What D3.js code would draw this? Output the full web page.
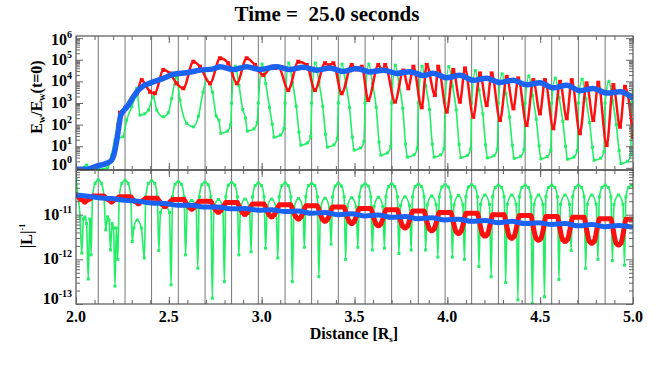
<!DOCTYPE html>
<html>
<head>
<meta charset="utf-8">
<script src="https://cdn.jsdelivr.net/npm/d3@7"></script>
<style>
  body { margin: 0; background: #fff; }
  .frame { fill: none; stroke: #333; stroke-width: 1; }
  .axis path { display: none; }
  .axis line { stroke: #666; }
</style>
</head>
<body>
<script>
// vertical marker lines [R_s]
var markLines = [2.120, 2.264, 2.407, 2.551, 2.695, 2.838, 2.982, 3.126, 3.269, 3.413,
                 3.557, 3.700, 3.844, 3.988, 4.131, 4.275, 4.419, 4.562, 4.706, 4.850];

var xLabels = [2.0, 2.5, 3.0, 3.5, 4.0, 4.5, 5.0];
var topExps = [0, 1, 2, 3, 4, 5, 6];
var botExps = [-13, -12, -11];

// top panel, [distance, log10(Ew/Ew(t=0))]
var topGreen = [[2.000,-0.08],[2.030,-0.02],[2.057,0.13],[2.080,-0.05],[2.120,-0.07],[2.170,0.0],[2.184,0.3],
  [2.192,0.59],[2.210,1.29],[2.228,1.37],[2.253,1.44],[2.273,2.21],[2.300,2.83],[2.318,3.29],[2.327,3.68],
  [2.345,2.44],[2.370,2.5],[2.390,2.67],[2.417,3.29],[2.435,2.67],[2.470,2.36],[2.497,2.55],[2.515,3.2],
  [2.542,4.21],[2.560,3.14],[2.596,2.06],[2.632,1.9],[2.660,2.4],[2.684,3.5],[2.704,4.06],[2.735,3.5],
  [2.755,2.4],[2.770,2.2],[2.780,1.6],[2.815,1.7],[2.833,2.0],
  [2.838,3.0],[2.858,4.7],[2.878,3.8],[2.898,2.7],[2.913,2.3],[2.923,1.7],[2.958,1.8],[2.976,2.1],
  [2.982,3.0],[3.002,4.8],[3.022,3.9],[3.042,2.8],[3.057,2.02],[3.067,1.42],[3.102,1.52],[3.120,1.82],
  [3.126,3.0],[3.146,4.85],[3.166,3.95],[3.186,2.85],[3.201,1.65],[3.211,1.05],[3.246,1.15],[3.264,1.45],
  [3.269,3.0],[3.289,4.85],[3.309,3.95],[3.329,2.85],[3.344,1.56],[3.354,0.96],[3.389,1.06],[3.407,1.36],
  [3.413,3.0],[3.433,4.8],[3.453,3.9],[3.473,2.8],[3.488,1.42],[3.498,0.82],[3.533,0.92],[3.551,1.22],
  [3.557,3.0],[3.577,4.8],[3.597,3.9],[3.617,2.8],[3.632,1.19],[3.642,0.59],[3.677,0.69],[3.695,0.99],
  [3.700,3.0],[3.720,4.75],[3.740,3.85],[3.760,2.75],[3.775,1.1],[3.785,0.5],[3.820,0.6],[3.838,0.9],
  [3.844,3.0],[3.864,4.7],[3.884,3.8],[3.904,2.7],[3.919,1.1],[3.929,0.5],[3.964,0.6],[3.982,0.9],
  [3.988,3.0],[4.008,4.68],[4.028,3.78],[4.048,2.68],[4.063,1.08],[4.073,0.48],[4.108,0.58],[4.126,0.88],
  [4.131,3.0],[4.151,4.5],[4.171,3.6],[4.191,2.5],[4.206,1.06],[4.216,0.46],[4.251,0.56],[4.269,0.86],
  [4.275,3.0],[4.295,4.35],[4.315,3.45],[4.335,2.35],[4.350,1.04],[4.360,0.44],[4.395,0.54],[4.413,0.84],
  [4.419,3.0],[4.439,4.25],[4.459,3.35],[4.479,2.25],[4.494,1.02],[4.504,0.42],[4.539,0.52],[4.557,0.82],
  [4.562,3.0],[4.582,4.15],[4.602,3.25],[4.622,2.15],[4.637,1.0],[4.647,0.4],[4.682,0.5],[4.700,0.8],
  [4.706,3.0],[4.726,4.1],[4.746,3.2],[4.766,2.1],[4.781,0.95],[4.791,0.35],[4.826,0.45],[4.844,0.75],
  [4.850,3.0],[4.870,4.0],[4.890,3.1],[4.910,2.0],[4.925,0.8],[4.935,0.2],[4.970,0.3],[4.988,0.6],
  [4.993,3.0],[5.000,3.6]];

var topRed = [[2.000,-0.07],[2.054,-0.07],[2.111,0.08],[2.165,0.21],[2.192,0.36],[2.210,0.9],[2.228,2.0],
  [2.237,2.55],[2.264,2.75],[2.291,3.06],[2.327,3.45],[2.354,4.06],[2.377,3.8],[2.399,3.52],[2.425,3.45],
  [2.470,4.53],[2.506,4.37],[2.542,3.91],[2.578,3.68],[2.632,4.91],[2.668,4.68],[2.722,3.91],[2.776,5.07],
  [2.820,4.84],[2.866,3.91],[2.919,5.07],[2.964,4.76],[3.009,4.29],[3.054,4.68],[3.072,4.62],[3.090,4.68],
  [3.143,3.6],[3.197,4.91],[3.243,4.76],[3.287,3.6],[3.341,4.84],[3.363,4.75],[3.386,4.84],[3.431,3.45],
  [3.485,4.76],[3.512,4.55],[3.539,4.68],[3.574,3.14],[3.628,4.76],[3.651,4.5],[3.665,4.76],[3.718,3.06],
  [3.763,4.5],[3.790,3.68],[3.817,4.68],[3.862,2.8],[3.889,4.76],[3.933,3.37],[3.951,4.68],[3.997,2.6],
  [4.032,4.53],[4.068,3.06],[4.095,4.6],[4.140,2.36],[4.176,4.37],[4.212,2.9],[4.239,4.37],[4.284,2.21],
  [4.320,4.21],[4.356,2.75],[4.382,4.14],[4.427,1.98],[4.463,4.06],[4.499,2.52],[4.526,4.06],[4.571,1.83],
  [4.607,3.98],[4.643,2.29],[4.670,4.06],[4.714,1.6],[4.750,3.91],[4.786,2.21],[4.813,3.94],[4.858,1.05],
  [4.894,3.83],[4.930,1.9],[4.957,3.75],[5.000,1.44]];

var topBlue = [[2.000,-0.07],[2.054,-0.07],[2.111,0.08],[2.165,0.21],[2.192,0.36],[2.210,0.82],[2.228,1.75],
  [2.241,2.44],[2.259,2.67],[2.282,2.9],[2.309,3.29],[2.336,3.6],[2.363,3.79],[2.416,3.98],[2.470,4.14],
  [2.524,4.33],[2.596,4.40],[2.668,4.52],[2.740,4.58],[2.776,4.68],[2.847,4.55],[2.919,4.68],[2.991,4.55],
  [3.081,4.68],[3.153,4.55],[3.224,4.65],[3.296,4.52],[3.368,4.62],[3.440,4.46],[3.512,4.6],[3.583,4.44],
  [3.655,4.52],[3.727,4.37],[3.799,4.45],[3.871,4.27],[3.924,4.38],[3.997,4.17],[4.068,4.28],[4.140,4.05],
  [4.212,4.14],[4.284,3.95],[4.355,4.05],[4.427,3.84],[4.499,3.94],[4.571,3.7],[4.643,3.82],[4.714,3.57],
  [4.786,3.67],[4.858,3.46],[4.930,3.52],[5.000,3.22]];

// bottom panel, [distance, log10 |L|^-1]
var botGreen = [[2.000,-10.20],[2.010,-10.55],[2.022,-11.05],[2.031,-11.86],[2.040,-11.1],[2.048,-11.05],
  [2.057,-11.2],[2.066,-12.44],[2.074,-11.1],[2.078,-11.15],[2.081,-11.9],
  [2.089,-10.6],[2.103,-10.3],[2.120,-10.22],[2.137,-10.3],[2.151,-10.6],[2.160,-11.34],
  [2.170,-11.05],[2.178,-11.12],[2.186,-11.79],[2.194,-11.2],[2.202,-11.3],[2.210,-12.6],[2.217,-11.3],[2.225,-12.0],
  [2.233,-10.6],[2.247,-10.3],[2.264,-10.23],[2.281,-10.3],[2.295,-10.6],[2.303,-11.6],
  [2.311,-11.3],[2.330,-11.12],[2.352,-11.3],[2.368,-11.97],
  [2.376,-10.6],[2.390,-10.3],[2.407,-10.24],[2.424,-10.3],[2.438,-10.6],[2.446,-11.8],
  [2.455,-10.95],[2.479,-10.8],[2.503,-10.95],[2.512,-12.57],
  [2.520,-10.6],[2.534,-10.32],[2.551,-10.26],[2.568,-10.32],[2.582,-10.6],[2.590,-11.9],
  [2.599,-10.85],[2.623,-10.68],[2.647,-10.85],[2.656,-12.2],
  [2.664,-10.6],[2.678,-10.33],[2.695,-10.27],[2.712,-10.33],[2.726,-10.6],[2.734,-12.87],
  [2.743,-10.85],[2.767,-10.66],[2.791,-10.85],[2.799,-12.5],
  [2.807,-10.6],[2.821,-10.34],[2.838,-10.28],[2.855,-10.34],[2.869,-10.6],[2.877,-11.9],
  [2.886,-10.85],[2.910,-10.65],[2.934,-10.85],[2.943,-11.83],
  [2.951,-10.6],[2.965,-10.35],[2.982,-10.29],[2.999,-10.35],[3.013,-10.6],[3.021,-11.75],
  [3.030,-10.85],[3.054,-10.65],[3.078,-10.85],[3.087,-11.97],
  [3.095,-10.6],[3.109,-10.35],[3.126,-10.29],[3.143,-10.35],[3.157,-10.6],[3.165,-12.5],
  [3.174,-10.85],[3.198,-10.64],[3.222,-10.85],[3.230,-11.73],
  [3.238,-10.6],[3.252,-10.35],[3.269,-10.3],[3.286,-10.35],[3.300,-10.6],[3.308,-12.39],
  [3.317,-10.85],[3.341,-10.63],[3.365,-10.85],[3.374,-11.66],
  [3.382,-10.6],[3.396,-10.36],[3.413,-10.3],[3.430,-10.36],[3.444,-10.6],[3.452,-12.0],
  [3.461,-10.83],[3.485,-10.62],[3.509,-10.83],[3.518,-11.73],
  [3.526,-10.6],[3.540,-10.36],[3.557,-10.31],[3.574,-10.36],[3.588,-10.6],[3.596,-11.79],
  [3.605,-10.82],[3.629,-10.61],[3.653,-10.82],[3.661,-11.75],
  [3.669,-10.6],[3.683,-10.37],[3.700,-10.31],[3.717,-10.37],[3.731,-10.6],[3.739,-11.87],
  [3.748,-10.8],[3.772,-10.6],[3.796,-10.8],[3.805,-11.79],
  [3.813,-10.6],[3.827,-10.37],[3.844,-10.32],[3.861,-10.37],[3.875,-10.6],[3.883,-11.79],
  [3.892,-10.78],[3.916,-10.58],[3.940,-10.78],[3.949,-11.95],
  [3.957,-10.6],[3.971,-10.38],[3.988,-10.33],[4.005,-10.38],[4.019,-10.6],[4.027,-11.95],
  [4.036,-10.78],[4.060,-10.57],[4.084,-10.78],[4.092,-12.0],
  [4.100,-10.6],[4.114,-10.38],[4.131,-10.33],[4.148,-10.38],[4.162,-10.6],[4.170,-12.16],
  [4.179,-10.77],[4.203,-10.56],[4.227,-10.77],[4.236,-12.39],
  [4.244,-10.6],[4.258,-10.39],[4.275,-10.34],[4.292,-10.39],[4.306,-10.6],[4.314,-12.52],
  [4.323,-10.77],[4.347,-10.56],[4.371,-10.77],[4.380,-12.91],
  [4.388,-10.6],[4.402,-10.39],[4.419,-10.34],[4.436,-10.39],[4.450,-10.6],[4.458,-13.0],
  [4.467,-10.77],[4.491,-10.56],[4.515,-10.77],[4.523,-12.84],
  [4.531,-10.6],[4.545,-10.39],[4.562,-10.34],[4.579,-10.39],[4.593,-10.6],[4.601,-12.45],
  [4.610,-10.77],[4.634,-10.56],[4.658,-10.77],[4.667,-11.8],
  [4.675,-10.6],[4.689,-10.39],[4.706,-10.34],[4.723,-10.39],[4.737,-10.6],[4.745,-12.2],
  [4.754,-10.77],[4.778,-10.56],[4.802,-10.77],[4.811,-12.0],
  [4.819,-10.6],[4.833,-10.39],[4.850,-10.34],[4.867,-10.39],[4.881,-10.6],[4.889,-12.03],
  [4.898,-10.77],[4.922,-10.56],[4.946,-10.77],[4.954,-12.13],
  [4.962,-10.6],[4.976,-10.39],[4.993,-10.34],[5.000,-10.36]];

var botRed = [[2.000,-10.56],[2.006,-10.56],[2.021,-10.64],[2.034,-10.67],[2.048,-10.72],[2.062,-10.67],[2.075,-10.65],
  [2.090,-10.58],[2.150,-10.58],[2.165,-10.65],[2.178,-10.67],[2.192,-10.72],[2.206,-10.67],[2.219,-10.65],
  [2.234,-10.60],[2.294,-10.60],[2.309,-10.68],[2.322,-10.71],[2.336,-10.76],[2.350,-10.71],[2.363,-10.68],
  [2.377,-10.63],[2.437,-10.63],[2.452,-10.72],[2.465,-10.77],[2.479,-10.82],[2.493,-10.77],[2.506,-10.72],
  [2.521,-10.66],[2.581,-10.66],[2.596,-10.77],[2.609,-10.83],[2.623,-10.88],[2.637,-10.83],[2.650,-10.77],
  [2.665,-10.70],[2.725,-10.70],[2.740,-10.82],[2.753,-10.90],[2.767,-10.95],[2.781,-10.90],[2.794,-10.82],
  [2.808,-10.73],[2.868,-10.73],[2.883,-10.86],[2.896,-10.95],[2.910,-11.0],[2.924,-10.95],[2.937,-10.86],
  [2.952,-10.76],[3.012,-10.76],[3.027,-10.9],[3.040,-11.0],[3.054,-11.05],[3.068,-11.0],[3.081,-10.9],
  [3.096,-10.78],[3.156,-10.78],[3.171,-10.94],[3.184,-11.05],[3.198,-11.1],[3.212,-11.05],[3.225,-10.94],
  [3.239,-10.80],[3.299,-10.80],[3.314,-10.97],[3.327,-11.1],[3.341,-11.15],[3.355,-11.1],[3.368,-10.97],
  [3.383,-10.83],[3.443,-10.83],[3.458,-11.01],[3.471,-11.15],[3.485,-11.2],[3.499,-11.15],[3.512,-11.01],
  [3.527,-10.86],[3.587,-10.86],[3.602,-11.05],[3.615,-11.2],[3.629,-11.25],[3.643,-11.2],[3.656,-11.05],
  [3.670,-10.89],[3.730,-10.89],[3.745,-11.09],[3.758,-11.25],[3.772,-11.3],[3.786,-11.25],[3.799,-11.09],
  [3.814,-10.92],[3.874,-10.92],[3.889,-11.14],[3.902,-11.31],[3.916,-11.36],[3.930,-11.31],[3.943,-11.14],
  [3.958,-10.95],[4.018,-10.95],[4.033,-11.18],[4.046,-11.37],[4.060,-11.42],[4.074,-11.37],[4.087,-11.18],
  [4.101,-10.97],[4.161,-10.97],[4.176,-11.22],[4.189,-11.43],[4.203,-11.48],[4.217,-11.43],[4.230,-11.22],
  [4.245,-11.0],[4.305,-11.0],[4.320,-11.26],[4.333,-11.48],[4.347,-11.53],[4.361,-11.48],[4.374,-11.26],
  [4.389,-11.02],[4.449,-11.02],[4.464,-11.3],[4.477,-11.52],[4.491,-11.57],[4.505,-11.52],[4.518,-11.3],
  [4.532,-11.04],[4.592,-11.04],[4.607,-11.32],[4.620,-11.55],[4.634,-11.6],[4.648,-11.55],[4.661,-11.32],
  [4.676,-11.06],[4.736,-11.06],[4.751,-11.35],[4.764,-11.59],[4.778,-11.64],[4.792,-11.59],[4.805,-11.35],
  [4.820,-11.09],[4.880,-11.09],[4.895,-11.38],[4.908,-11.63],[4.922,-11.68],[4.936,-11.63],[4.949,-11.38],
  [4.963,-11.1],[5.000,-11.1]];

var botBlue = [[2.000,-10.56],[2.050,-10.58],[2.120,-10.62],[2.190,-10.64],[2.264,-10.68],[2.336,-10.70],
  [2.407,-10.74],[2.479,-10.75],[2.551,-10.79],[2.623,-10.79],[2.695,-10.83],[2.767,-10.83],[2.838,-10.87],
  [2.910,-10.86],[2.982,-10.9],[3.054,-10.89],[3.126,-10.93],[3.198,-10.92],[3.269,-10.97],[3.341,-10.95],
  [3.413,-11.0],[3.485,-10.98],[3.557,-11.03],[3.629,-11.01],[3.700,-11.06],[3.772,-11.04],[3.844,-11.09],
  [3.916,-11.07],[3.988,-11.12],[4.060,-11.1],[4.131,-11.15],[4.203,-11.13],[4.275,-11.18],[4.347,-11.15],
  [4.419,-11.2],[4.491,-11.18],[4.562,-11.22],[4.634,-11.2],[4.706,-11.25],[4.778,-11.22],[4.850,-11.27],
  [4.922,-11.24],[5.000,-11.28]];

var GREEN = "#22ee66", RED = "#ff1010", BLUE = "#1a62f2";
var SERIF = "'Liberation Serif', 'Times New Roman', 'DejaVu Serif', serif";

var svg = d3.select("body").append("svg").attr("width", 656).attr("height", 365)
  .style("font-family", SERIF).style("font-weight", "bold");

var x = d3.scaleLinear().domain([2, 5]).range([76, 633]);
var yTop = d3.scaleLog().domain([Math.pow(10, -0.1), Math.pow(10, 6.1)]).range([170, 36]);
var yBot = d3.scaleLog().domain([1e-13, 1e-10]).range([304, 170]);

var defs = svg.append("defs");
defs.append("clipPath").attr("id", "clipTop").append("rect")
  .attr("x", 76).attr("y", 36).attr("width", 557).attr("height", 134);
defs.append("clipPath").attr("id", "clipBot").append("rect")
  .attr("x", 76).attr("y", 170).attr("width", 557).attr("height", 134);

// vertical lines through both panels
svg.append("g").selectAll("line").data(markLines).enter().append("line")
  .attr("x1", function(d) { return x(d); }).attr("x2", function(d) { return x(d); })
  .attr("y1", 36).attr("y2", 304)
  .attr("stroke", "#777").attr("stroke-width", 1);

function drawSeries(g, data, y, color, width, mark) {
  var line = d3.line()
    .x(function(d) { return x(d[0]); })
    .y(function(d) { return y(Math.pow(10, d[1])); })
    .curve(d3.curveMonotoneX);
  g.append("path").datum(data)
    .attr("fill", "none").attr("stroke", color).attr("stroke-width", width)
    .attr("stroke-linejoin", "round").attr("d", line);
  if (mark) {
    g.append("g").selectAll("rect").data(data).enter().append("rect")
      .attr("x", function(d) { return x(d[0]) - mark / 2; })
      .attr("y", function(d) { return y(Math.pow(10, d[1])) - mark / 2; })
      .attr("width", mark).attr("height", mark)
      .attr("fill", color);
  }
}

var gTop = svg.append("g").attr("clip-path", "url(#clipTop)");
drawSeries(gTop, topGreen, yTop, GREEN, 1.6, 3);
drawSeries(gTop, topRed, yTop, RED, 2.5, 4);
drawSeries(gTop, topBlue, yTop, BLUE, 5.5, 0);

var gBot = svg.append("g").attr("clip-path", "url(#clipBot)");
drawSeries(gBot, botGreen, yBot, GREEN, 1.6, 3);
drawSeries(gBot, botRed, yBot, RED, 5, 4);
drawSeries(gBot, botBlue, yBot, BLUE, 5, 0);

// frames
svg.append("rect").attr("class", "frame").attr("x", 76).attr("y", 36).attr("width", 557).attr("height", 134);
svg.append("rect").attr("class", "frame").attr("x", 76).attr("y", 170).attr("width", 557).attr("height", 134);

// x ticks on every horizontal edge, pointing into the panel
var xMinor = d3.range(2, 5.001, 0.1);
[[36, 1], [170, -1], [170, 1], [304, -1]].forEach(function(e) {
  var axMaj = (e[1] > 0 ? d3.axisTop(x) : d3.axisBottom(x)).tickValues(xLabels).tickFormat("").tickSize(-7);
  var axMin = (e[1] > 0 ? d3.axisTop(x) : d3.axisBottom(x)).tickValues(xMinor).tickFormat("").tickSize(-4);
  svg.append("g").attr("class", "axis").attr("transform", "translate(0," + e[0] + ")").call(axMaj);
  svg.append("g").attr("class", "axis").attr("transform", "translate(0," + e[0] + ")").call(axMin);
});

function logTicks(lo, hi) {
  var v = [];
  for (var e = lo; e <= hi; e++) for (var k = 2; k <= 9; k++) v.push(k * Math.pow(10, e));
  return v;
}
function yAxes(y, exps, minors, yMin, yMax) {
  var maj = exps.map(function(e) { return Math.pow(10, e); });
  [[76, d3.axisLeft], [633, d3.axisRight]].forEach(function(s) {
    svg.append("g").attr("class", "axis").attr("transform", "translate(" + s[0] + ",0)")
      .call(s[1](y).tickValues(maj).tickFormat("").tickSize(-7));
    svg.append("g").attr("class", "axis").attr("transform", "translate(" + s[0] + ",0)")
      .call(s[1](y).tickValues(minors).tickFormat("").tickSize(-4));
  });
  exps.forEach(function(e) {
    var cy = Math.max(yMin, Math.min(yMax, y(Math.pow(10, e))));
    var t = svg.append("text").attr("x", 72).attr("y", cy + 5)
      .attr("text-anchor", "end").style("font-size", "16px");
    t.append("tspan").text("10");
    t.append("tspan").attr("dy", -7).style("font-size", "10px").text(String(e));
  });
}
yAxes(yTop, topExps, logTicks(0, 5), 40, 165);
yAxes(yBot, botExps, logTicks(-13, -11), 174, 299);

// x tick labels
svg.append("g").selectAll("text").data(xLabels).enter().append("text")
  .attr("x", function(d) { return x(d); }).attr("y", 322)
  .attr("text-anchor", "middle").style("font-size", "16px")
  .text(function(d) { return d.toFixed(1); });

// x axis title
var xt = svg.append("text").attr("x", 354).attr("y", 339).attr("text-anchor", "middle").style("font-size", "16px");
xt.append("tspan").text("Distance [R");
xt.append("tspan").attr("dy", 3).style("font-size", "9px").text("s");
xt.append("tspan").attr("dy", -3).text("]");

// y axis titles
var yt1 = svg.append("text").attr("transform", "translate(42,97) rotate(-90)")
  .attr("text-anchor", "middle").style("font-size", "16px");
yt1.append("tspan").text("E");
yt1.append("tspan").attr("dy", 3).style("font-size", "10px").text("w");
yt1.append("tspan").attr("dy", -3).text("/E");
yt1.append("tspan").attr("dy", 3).style("font-size", "10px").text("w");
yt1.append("tspan").attr("dy", -3).text("(t=0)");

var yt2 = svg.append("text").attr("transform", "translate(32,236) rotate(-90)")
  .attr("text-anchor", "middle").style("font-size", "16px");
yt2.append("tspan").text("|L|");
yt2.append("tspan").attr("dy", -7).style("font-size", "8px").text("-1");

// title
svg.append("text").attr("x", 327).attr("y", 21).attr("text-anchor", "middle")
  .style("font-size", "21px").style("white-space", "pre")
  .text("Time =  25.0 seconds");
</script>
</body>
</html>
